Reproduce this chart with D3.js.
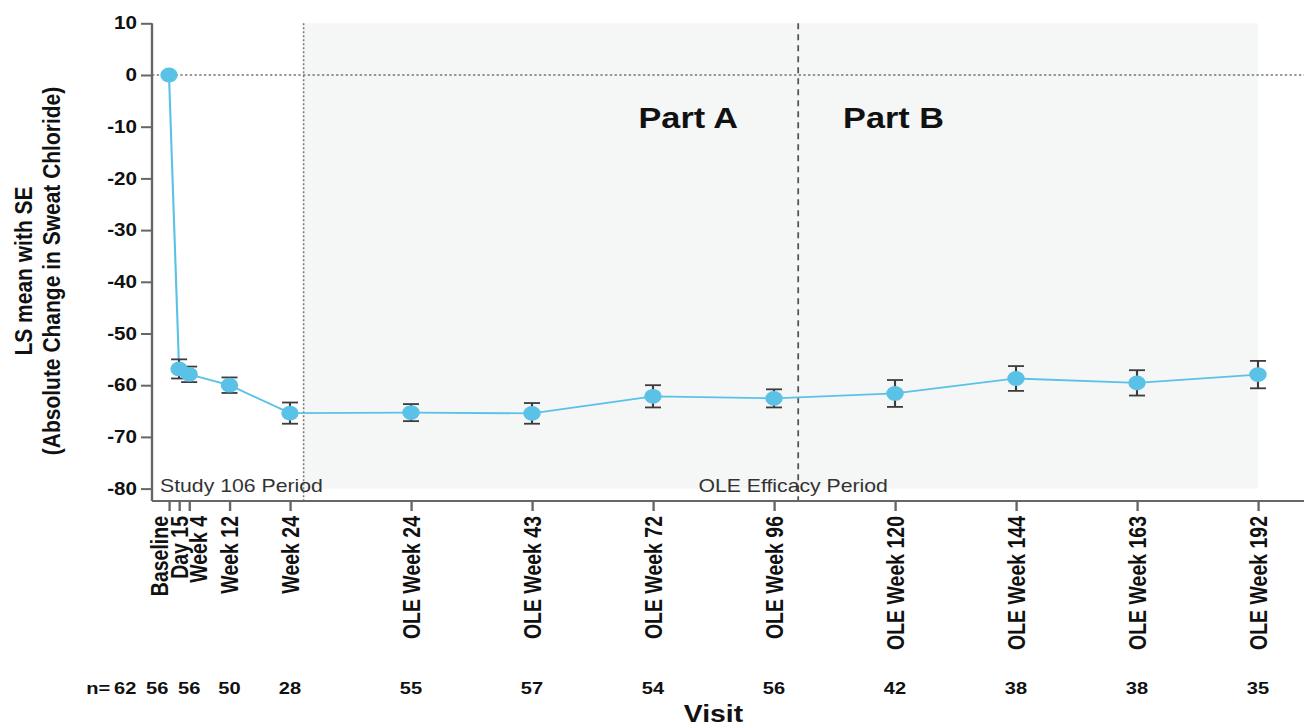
<!DOCTYPE html>
<html>
<head>
<meta charset="utf-8">
<script src="https://cdn.jsdelivr.net/npm/d3@7"></script>
<style>
  html, body { margin: 0; padding: 0; background: #fff; }
  svg { display: block; font-family: "Liberation Sans", Arial, Helvetica, sans-serif; }
</style>
</head>
<body>
<svg id="chart" width="1304" height="727"></svg>
<script>
// Visits along the x axis and their position on the axis (in axis weeks)
const visits = ["Baseline", "Day 15", "Week 4", "Week 12", "Week 24",
  "OLE Week 24", "OLE Week 43", "OLE Week 72", "OLE Week 96",
  "OLE Week 120", "OLE Week 144", "OLE Week 163", "OLE Week 192"];
const axisPos = [0, 2, 4, 12, 24, 48, 72, 96, 120, 144, 168, 192, 216];

// LS mean absolute change in sweat chloride and its standard error
const lsMean = [0, -56.85, -57.9, -60.0, -65.4, -65.3, -65.45, -62.15, -62.55, -61.6, -58.7, -59.55, -57.95];
const se = [0, 1.85, 1.5, 1.5, 2.05, 1.65, 2.0, 2.15, 1.75, 2.6, 2.4, 2.45, 2.65];

// Number of subjects at each visit
const nValues = [62, 56, 56, 50, 28, 55, 57, 54, 56, 42, 38, 38, 35];

// Y axis ticks
const yTicks = [10, 0, -10, -20, -30, -40, -50, -60, -70, -80];

// Period boundaries (axis weeks) and annotations
const studyEnd = 26.7;
const partSplit = 124.8;
const partLabels = [{ text: "Part A", at: 103 }, { text: "Part B", at: 143.7 }];

const W = 1304, H = 727;
const SX = 1.18;               // horizontal stretch of the whole drawing
const px = v => v / SX;        // convert a horizontal screen length to drawing units

const svg = d3.select("#chart");
const g = svg.append("g").attr("transform", `scale(${SX},1)`);

const x = d3.scaleLinear().domain([0, 216]).range([px(169), px(1258)]);
const y = d3.scaleLinear().domain([10, -80]).range([23.3, 488.6]);
const axisLeftX = px(152);
const axisBottomY = 501;

const axisColor = "#666";
const lineColor = "#5bc2e7";

// Shaded open-label extension region
g.append("rect")
  .attr("x", x(studyEnd))
  .attr("y", y(10))
  .attr("width", x(216) - x(studyEnd))
  .attr("height", y(-80) - y(10))
  .attr("fill", "#f5f6f6");

// Reference line at zero
g.append("line")
  .attr("x1", axisLeftX).attr("x2", px(W))
  .attr("y1", y(0)).attr("y2", y(0))
  .attr("stroke", "#777").attr("stroke-width", 1.3)
  .attr("stroke-dasharray", "2,2");

// End of Study 106 period
g.append("line")
  .attr("x1", x(studyEnd)).attr("x2", x(studyEnd))
  .attr("y1", y(10)).attr("y2", axisBottomY)
  .attr("stroke", "#777").attr("stroke-width", 1.3)
  .attr("stroke-dasharray", "2,2");

// Part A / Part B split
g.append("line")
  .attr("x1", x(partSplit)).attr("x2", x(partSplit))
  .attr("y1", y(10)).attr("y2", axisBottomY)
  .attr("stroke", "#555").attr("stroke-width", 1.5)
  .attr("stroke-dasharray", "6,5");

// Part labels
g.selectAll("text.part").data(partLabels).join("text")
  .attr("class", "part")
  .attr("x", d => x(d.at)).attr("y", 128)
  .attr("text-anchor", "middle")
  .attr("font-size", 29).attr("font-weight", "bold").attr("fill", "#111")
  .text(d => d.text);

// Period labels
g.append("text")
  .attr("x", axisLeftX + px(8)).attr("y", 492)
  .attr("font-size", 18).attr("fill", "#333")
  .text("Study 106 Period");
g.append("text")
  .attr("x", x(partSplit - 1)).attr("y", 492)
  .attr("text-anchor", "middle")
  .attr("font-size", 18).attr("fill", "#333")
  .text("OLE Efficacy Period");

// Y axis (plain hyphen-minus in the tick labels)
const yAxis = g.append("g")
  .attr("transform", `translate(${axisLeftX},0)`)
  .call(d3.axisLeft(y).tickValues(yTicks).tickSize(px(11)).tickPadding(px(4)).tickFormat(d => String(d)));
yAxis.select(".domain").remove();
yAxis.selectAll(".tick line").attr("stroke", axisColor).attr("stroke-width", 2);
yAxis.selectAll(".tick text")
  .attr("font-size", 17.5).attr("font-weight", "bold").attr("fill", "#111")
  .attr("font-family", null);
g.append("line")
  .attr("x1", axisLeftX).attr("x2", axisLeftX)
  .attr("y1", y(10)).attr("y2", axisBottomY)
  .attr("stroke", axisColor).attr("stroke-width", 2);

// X axis: crowded tick labels are spread apart around their common centre
function spread(pos, gap) {
  const clusters = [];
  pos.forEach(p => {
    clusters.push({ items: [p], mean: p });
    while (clusters.length > 1) {
      const a = clusters[clusters.length - 2], b = clusters[clusters.length - 1];
      const aEnd = a.mean + (a.items.length - 1) / 2 * gap;
      const bStart = b.mean - (b.items.length - 1) / 2 * gap;
      if (bStart - aEnd >= gap) break;
      const items = a.items.concat(b.items);
      clusters.splice(-2, 2, { items, mean: d3.mean(items) });
    }
  });
  return clusters.flatMap(c => c.items.map((_, k) => c.mean + (k - (c.items.length - 1) / 2) * gap));
}
const tickX = axisPos.map(d => x(d));
const labelX = spread(tickX, px(19.5));

const xAxis = g.append("g")
  .attr("transform", `translate(0,${axisBottomY})`)
  .call(d3.axisBottom(x).tickValues(axisPos).tickSize(10).tickSizeOuter(0)
    .tickFormat((d, i) => visits[i]));
xAxis.select(".domain").remove();
xAxis.selectAll(".tick line").attr("stroke", axisColor).attr("stroke-width", 2);
xAxis.selectAll(".tick text")
  .attr("font-size", 19.5).attr("font-weight", "bold").attr("fill", "#111")
  .attr("transform", "rotate(-90)")
  .attr("text-anchor", "end")
  .attr("x", -15)
  .attr("y", (d, i) => labelX[i] - tickX[i])
  .attr("dy", "0.36em");
g.append("line")
  .attr("x1", axisLeftX).attr("x2", px(W))
  .attr("y1", axisBottomY).attr("y2", axisBottomY)
  .attr("stroke", axisColor).attr("stroke-width", 2);

// Y axis title
const yTitle = ["LS mean with SE", "(Absolute Change in Sweat Chloride)"];
g.selectAll("text.ytitle").data(yTitle).join("text")
  .attr("class", "ytitle")
  .attr("transform", (d, i) => `translate(${px(i === 0 ? 32 : 60)},271) rotate(-90)`)
  .attr("text-anchor", "middle")
  .attr("font-size", 21).attr("font-weight", "bold").attr("fill", "#111")
  .text(d => d);

// X axis title
g.append("text")
  .attr("x", (x(0) + x(216)) / 2).attr("y", 722)
  .attr("text-anchor", "middle")
  .attr("font-size", 24).attr("font-weight", "bold").attr("fill", "#111")
  .text("Visit");

// n row: crowded values are pushed leftwards
const nX = tickX.slice();
for (let i = nX.length - 2; i >= 0; i--) nX[i] = Math.min(nX[i], nX[i + 1] - px(32));
g.selectAll("text.nval").data(nValues).join("text")
  .attr("class", "nval")
  .attr("x", (d, i) => nX[i]).attr("y", 694)
  .attr("text-anchor", "middle")
  .attr("font-size", 17).attr("font-weight", "bold").attr("fill", "#111")
  .text(d => d);
g.append("text")
  .attr("x", nX[0] - px(15)).attr("y", 694)
  .attr("text-anchor", "end")
  .attr("font-size", 17).attr("font-weight", "bold").attr("fill", "#111")
  .text("n=");

// Series
const pts = visits.map((v, i) => ({ v, pos: axisPos[i], m: lsMean[i], se: se[i] }));

g.append("path")
  .datum(pts)
  .attr("fill", "none")
  .attr("stroke", lineColor).attr("stroke-width", 1.8)
  .attr("d", d3.line().x(d => x(d.pos)).y(d => y(d.m)));

const capHalf = px(8);
const eb = g.selectAll("g.err").data(pts.filter(d => d.se > 0)).join("g")
  .attr("class", "err")
  .attr("stroke", "#3c3c3c").attr("stroke-width", 1.8);
eb.append("line")
  .attr("x1", d => x(d.pos)).attr("x2", d => x(d.pos))
  .attr("y1", d => y(d.m + d.se)).attr("y2", d => y(d.m - d.se));
eb.append("line")
  .attr("x1", d => x(d.pos) - capHalf).attr("x2", d => x(d.pos) + capHalf)
  .attr("y1", d => y(d.m + d.se)).attr("y2", d => y(d.m + d.se));
eb.append("line")
  .attr("x1", d => x(d.pos) - capHalf).attr("x2", d => x(d.pos) + capHalf)
  .attr("y1", d => y(d.m - d.se)).attr("y2", d => y(d.m - d.se));

g.selectAll("circle.pt").data(pts).join("circle")
  .attr("class", "pt")
  .attr("cx", d => x(d.pos)).attr("cy", d => y(d.m))
  .attr("r", 7.4)
  .attr("fill", lineColor);
</script>
</body>
</html>
